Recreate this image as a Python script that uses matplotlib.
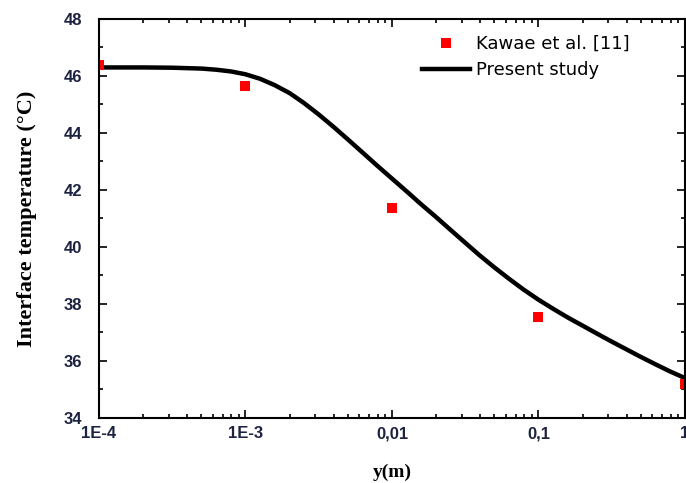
import matplotlib.pyplot as plt
from matplotlib.ticker import FixedLocator, LogLocator, MultipleLocator, NullFormatter

# measured points (Kawae et al.)
exp_y_m = [1e-4, 1e-3, 1e-2, 1e-1, 1.0]
exp_temp = [46.4, 45.66, 41.36, 37.55, 35.2]

# present study curve
model_y_m = [1e-4, 2e-4, 3.16e-4, 5.01e-4, 6.31e-4, 7.94e-4,
             1e-3, 1.26e-3, 1.58e-3, 2e-3, 2.51e-3, 3.16e-3, 3.98e-3, 5.01e-3, 6.31e-3, 7.94e-3,
             0.01, 0.0126, 0.0158, 0.02, 0.0251, 0.0316, 0.0398, 0.0501, 0.0631, 0.0794,
             0.1, 0.126, 0.158, 0.2, 0.251, 0.316, 0.398, 0.501, 0.631, 0.794, 1.0]
model_temp = [46.3, 46.3, 46.29, 46.26, 46.22, 46.16,
              46.06, 45.9, 45.68, 45.4, 45.05, 44.65, 44.22, 43.77, 43.31, 42.85,
              42.4, 41.95, 41.5, 41.05, 40.6, 40.15, 39.7, 39.28, 38.88, 38.5,
              38.15, 37.83, 37.53, 37.24, 36.96, 36.68, 36.41, 36.14, 35.88, 35.63, 35.4]

x_ticks = [1e-4, 1e-3, 1e-2, 1e-1, 1.0]
x_labels = ['1E-4', '1E-3', '0,01', '0,1', '1']

fig = plt.figure(figsize=(6.86, 4.83), dpi=100)
ax = fig.add_axes([0.1443, 0.1346, 0.8542, 0.8261])

ax.plot(model_y_m, model_temp, color='black', linewidth=3.2, label='Present study')
ax.plot(exp_y_m, exp_temp, linestyle='none', marker='s', markersize=7,
        color='red', markeredgewidth=0, label='Kawae et al. [11]')

ax.set_xscale('log')
ax.set_xlim(1e-4, 1.0)
ax.set_ylim(34, 48)

ax.xaxis.set_major_locator(FixedLocator(x_ticks))
ax.set_xticklabels(x_labels)
ax.xaxis.set_minor_locator(LogLocator(base=10, subs=range(2, 10), numticks=20))
ax.xaxis.set_minor_formatter(NullFormatter())
ax.yaxis.set_major_locator(MultipleLocator(2))
ax.yaxis.set_minor_locator(MultipleLocator(1))

ax.tick_params(which='both', direction='in', top=True, right=True, width=1.2,
               colors='black', labelcolor='#1c2340')
ax.tick_params(which='major', length=6)
ax.tick_params(axis='x', which='major', pad=6)
ax.tick_params(axis='y', which='major', pad=12)
ax.tick_params(which='minor', length=3)
for lab in ax.get_xticklabels() + ax.get_yticklabels():
    lab.set_fontfamily('Liberation Sans')
    lab.set_fontweight('bold')
    lab.set_fontsize(12)

for s in ax.spines.values():
    s.set_linewidth(1.5)

ax.set_ylabel('Interface temperature (°C)', family='Liberation Serif',
              fontweight='bold', fontsize=16, labelpad=19)
ax.set_xlabel('y(m)', family='Liberation Serif', fontweight='bold',
              fontsize=14, labelpad=16)

handles, labels = ax.get_legend_handles_labels()
ax.legend(handles[::-1], labels[::-1], loc='upper left',
          bbox_to_anchor=(0.523, 1.0), frameon=False, numpoints=1,
          handlelength=2.7, handletextpad=0.3, labelspacing=0.45,
          prop={'family': 'DejaVu Sans', 'size': 13})

fig.savefig('out.png', dpi=100)
